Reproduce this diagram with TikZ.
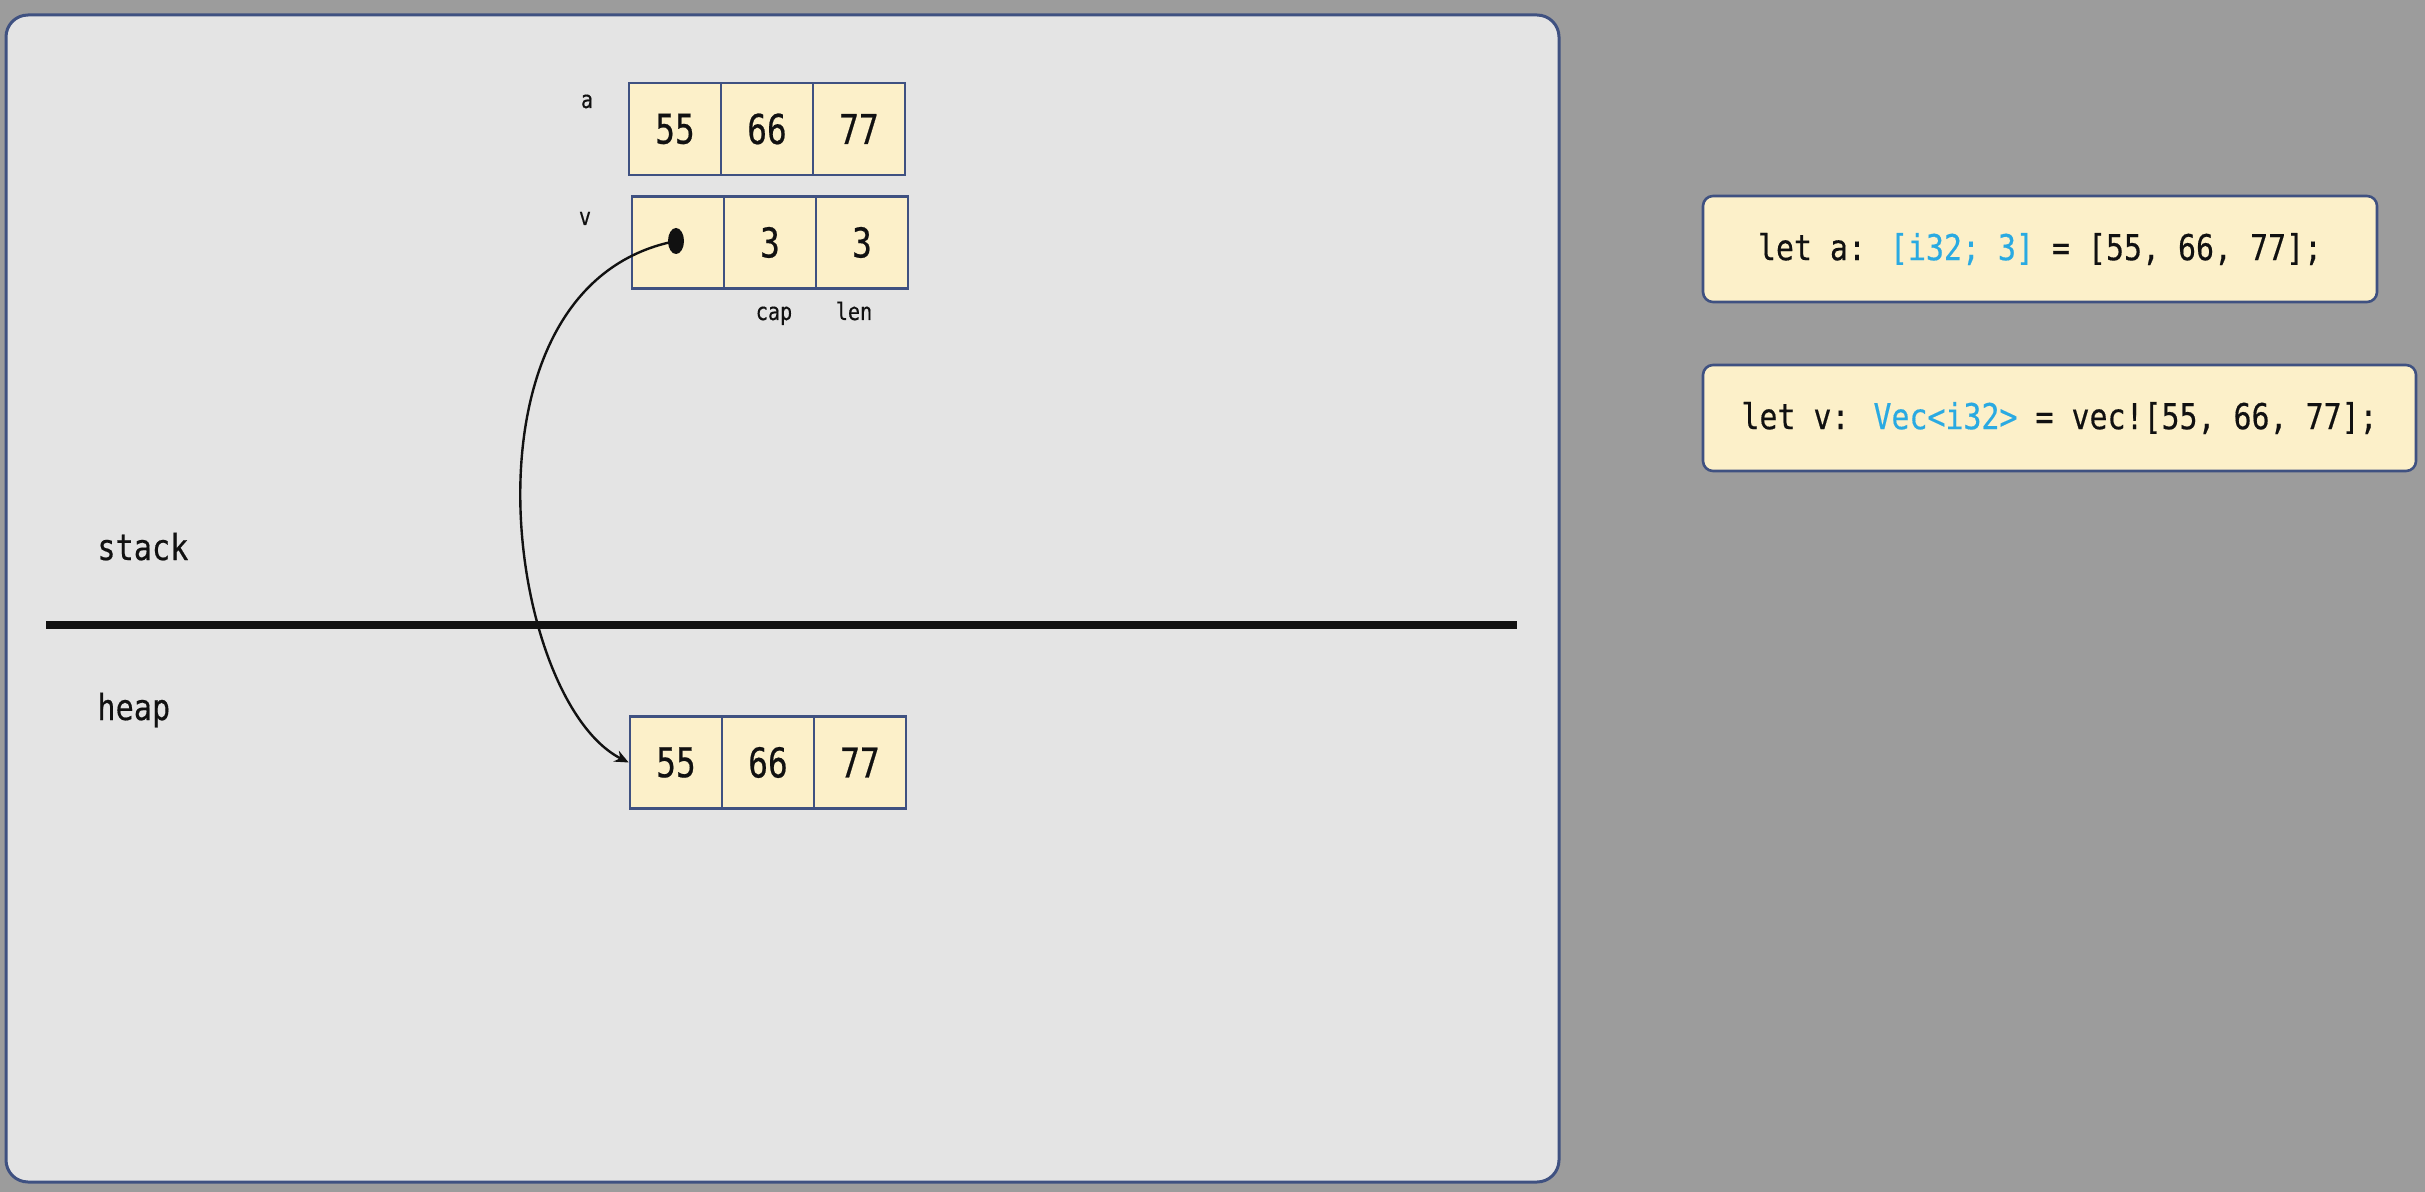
\documentclass[tikz,border=0pt]{standalone}
\usepackage{fontspec}
\usetikzlibrary{shapes.geometric,arrows.meta}
\newfontfamily\mono[FakeStretch=0.84,FakeBold=0.4]{DejaVu Sans Mono}
\newfontfamily\monocell[FakeStretch=0.8,FakeBold=0.5]{DejaVu Sans Mono}
\definecolor{bgray}{HTML}{9C9C9C}
\definecolor{panelfill}{HTML}{E4E4E4}
\definecolor{frameblue}{HTML}{3F5181}
\definecolor{cellfill}{HTML}{FCF0C9}
\definecolor{codeblue}{HTML}{2AAAE2}
\definecolor{ink}{HTML}{111111}
\tikzset{
  cell/.style={draw=frameblue, fill=cellfill, line width=1.3pt, minimum width=46pt, minimum height=46pt, inner sep=0pt, text=ink, font=\monocell\fontsize{20.5}{22}\selectfont},
  smalllabel/.style={text=ink, inner sep=0pt, font=\mono\fontsize{12}{14}\selectfont},
  biglabel/.style={text=ink, inner sep=0pt, font=\mono\fontsize{18}{20}\selectfont},
  codebox/.style={draw=frameblue, fill=cellfill, line width=1.3pt, rounded corners=5pt, minimum height=53pt, inner sep=0pt, text=ink, font=\mono\fontsize{17.8}{20}\selectfont},
  pointer/.style={draw=ink, line width=1.2pt, -{Stealth[length=7pt,width=6pt]}}
}
\begin{document}
\begin{tikzpicture}[x=0.5pt,y=-0.5pt]
\fill[bgray] (0,0) rectangle (2425,1192);
\useasboundingbox (0,0) rectangle (2425,1192);
% panel
\draw[frameblue, fill=panelfill, line width=1.5pt, rounded corners=11pt] (6,15) rectangle (1559,1182);
% array a
\node[cell] (a1) at (675,129) {55};
\node[cell] (a2) at (767,129) {66};
\node[cell] (a3) at (859,129) {77};
\node[smalllabel, anchor=base] (la) at (587,108) {a};
% vec v
\node[cell] (v1) at (678,242.5) {};
\node[cell] (v2) at (770,242.5) {3};
\node[cell] (v3) at (862,242.5) {3};
\node[smalllabel, anchor=base] (lv) at (585,225) {v};
\node[smalllabel, anchor=base] (lcap) at (774,320) {cap};
\node[smalllabel, anchor=base] (llen) at (854,320) {len};
% stack / heap
\node[biglabel, anchor=base west] (lstack) at (97,560) {stack};
\node[biglabel, anchor=base west] (lheap) at (97,720) {heap};
\coordinate (s1) at (46,625);
\coordinate (s2) at (1517,625);
\draw[ink, line width=4pt] (s1) -- (s2);
% heap array
\node[cell] (h1) at (676,762.5) {55};
\node[cell] (h2) at (768,762.5) {66};
\node[cell] (h3) at (860,762.5) {77};
% pointer
\node[ellipse, fill=ink, minimum width=8pt, minimum height=13pt, inner sep=0pt] (dot) at (676,241) {};
\draw[pointer] (dot.center) .. controls (450,285) and (505,700) .. (h1.west);
% code
\node[codebox, minimum width=337pt] (code1) at (2040,249) {let a: \textcolor{codeblue}{[i32; 3]} = [55, 66, 77];};
\node[codebox, minimum width=356.5pt] (code2) at (2059.5,418) {let v: \textcolor{codeblue}{Vec<i32>} = vec![55, 66, 77];};
\end{tikzpicture}
\end{document}
